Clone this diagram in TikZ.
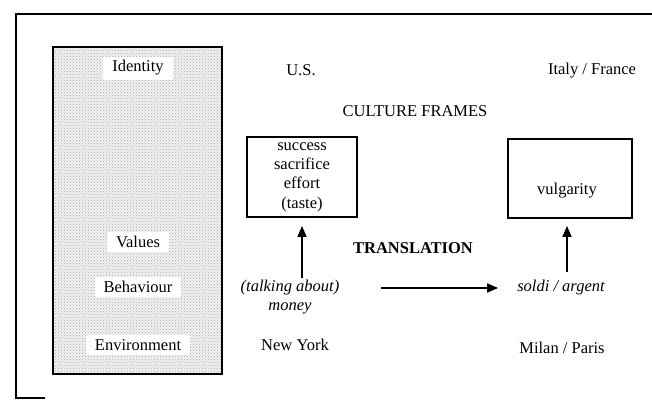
\documentclass[tikz,border=0pt]{standalone}
\usepackage{fontspec}
\setmainfont{Liberation Serif}
\usetikzlibrary{arrows.meta,positioning,patterns}

\begin{document}
\begin{tikzpicture}[x=1pt, y=-1pt,
    every node/.style={font=\fontsize{16.5}{19.3}\selectfont, inner sep=2pt},
    frame/.style={draw, line width=1.8pt, inner sep=0pt},
    level/.style={fill=white, inner xsep=9pt, inner ysep=4pt},
    arr/.style={line width=1.6pt, -{Triangle[length=11pt,width=9pt]}}]
  \useasboundingbox (0,0) rectangle (652,400);
  % outer frame, cut off on the right
  \draw[line width=1.3pt] (652,14) -- (16,14) -- (16,398) -- (45,398);
  % levels of culture
  \draw[line width=2.4pt, preaction={fill=gray!10}, pattern=crosshatch dots, pattern color=gray!70]
    (53,47) rectangle (222,374);
  \node[level] (ident) at (138,68) {Identity};
  \node[level] (vals) at (138,242) {Values};
  \node[level] (behav) at (138,287) {Behaviour};
  \node[level] (envir) at (138,345) {Environment};
  % countries
  \node (us) at (301,70) {U.S.};
  \node (itfr) at (592,71) {Italy / France};
  \node (cult) at (415,111) {CULTURE FRAMES};
  % frames
  \node[frame, minimum width=110pt, minimum height=80pt, align=center] (usframe) at (302,177)
    {success\\sacrifice\\effort\\(taste)};
  \node[frame, minimum width=124pt, minimum height=79pt] (itframe) at (570,178.5) {};
  \node (vul) at (567,191) {vulgarity};
  % behaviour
  \node[align=center, font=\fontsize{16.5}{19.3}\selectfont\itshape] (talk) at (290,297)
    {(talking about)\\money};
  \node[font=\fontsize{16.5}{19.3}\selectfont\itshape] (soldi) at (561,288) {soldi / argent};
  \node[font=\fontsize{16.5}{19.3}\selectfont\bfseries] (transl) at (413,248) {TRANSLATION};
  % places
  \node (ny) at (295,345) {New York};
  \node (mipa) at (562,348) {Milan / Paris};
  % arrows
  \draw[arr, shorten >=8pt] (talk.north -| usframe.south) -- (usframe.south);
  \draw[arr, shorten <=6pt, shorten >=7pt] (soldi.north -| vul.south) -- (itframe.south -| vul.south);
  \draw[arr, shorten <=40pt, shorten >=17pt] (soldi.west -| talk.east) -- (soldi.west);
\end{tikzpicture}
\end{document}
